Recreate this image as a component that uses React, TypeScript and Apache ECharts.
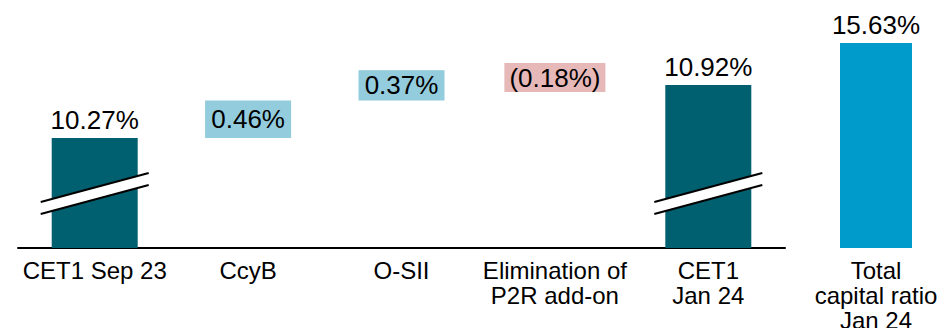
import React, { useEffect, useRef } from 'react';
import * as echarts from 'echarts';

const categories = ['CET1 Sep 23', 'CcyB', 'O-SII', 'Elimination of\nP2R add-on', 'CET1\nJan 24'];
const endpointValues: (number | null)[] = [10.27, null, null, null, 10.92];
const changeValues: (number | null)[] = [null, 0.46, 0.37, -0.18, null];
const totalCategories = ['Total\ncapital ratio\nJan 24'];
const totalValues = [15.63];
const breakIndices = [0, 4];

const FONT = '"Liberation Sans", Arial, Helvetica, sans-serif';
const C_END = '#00606F';
const C_POS = '#93CDDD';
const C_NEG = '#E6B9B8';
const C_TOTAL = '#009BCB';
const Y_MIN = 8.92;

export default function App() {
  const ref = useRef<HTMLDivElement>(null);
  useEffect(() => {
    document.body.style.margin = '0';
    const chart = echarts.init(ref.current!, null, { renderer: 'svg' });

    let running = 0;
    const base: any[] = [];
    const delta: any[] = [];
    const ends: any[] = [];
    categories.forEach((_, i) => {
      const e = endpointValues[i];
      const c = changeValues[i];
      if (e != null) {
        running = e;
        ends.push(e);
        base.push(0);
        delta.push({ value: 0, label: { show: false } });
      } else {
        ends.push({ value: 0, label: { show: false } });
        const ch = c as number;
        const lo = ch >= 0 ? running : running + ch;
        base.push(lo);
        const col = ch >= 0 ? C_POS : C_NEG;
        delta.push({
          value: Math.abs(ch),
          raw: ch,
          itemStyle: { color: col },
          label: { backgroundColor: col },
        });
        running += ch;
      }
    });

    const fmtPct = (v: number) => (v < 0 ? `(${Math.abs(v).toFixed(2)}%)` : `${v.toFixed(2)}%`);

    const catLabel = { interval: 0, color: '#000', fontSize: 24, lineHeight: 25, margin: 10, fontFamily: FONT };

    chart.setOption({
      animation: false,
      textStyle: { fontFamily: FONT },
      grid: [
        { left: 18, width: 767, top: 5, bottom: 80, outerBoundsMode: 'none', containLabel: false },
        { left: 805, width: 142, top: 12, bottom: 80, outerBoundsMode: 'none', containLabel: false },
      ],
      xAxis: [
        {
          type: 'category',
          gridIndex: 0,
          data: categories,
          axisLine: { lineStyle: { color: '#000', width: 2 } },
          axisTick: { show: false },
          axisLabel: catLabel,
        },
        {
          type: 'category',
          gridIndex: 1,
          data: totalCategories,
          axisLine: { show: false },
          axisTick: { show: false },
          axisLabel: catLabel,
        },
      ],
      yAxis: [
        { type: 'value', gridIndex: 0, min: Y_MIN, max: 11.9, show: false, splitLine: { show: false } },
        { type: 'value', gridIndex: 1, min: 0, max: 18, show: false, splitLine: { show: false } },
      ],
      series: [
        {
          type: 'bar',
          name: 'endpoints',
          stack: 'w',
          barWidth: 86,
          data: ends,
          itemStyle: { color: C_END },
          label: {
            show: true,
            position: 'top',
            distance: 5,
            color: '#000',
            fontSize: 26,
            fontFamily: FONT,
            formatter: (p: any) => fmtPct(p.value),
          },
        },
        {
          type: 'bar',
          name: 'base',
          stack: 'w',
          barWidth: 86,
          data: base,
          itemStyle: { color: 'transparent' },
          silent: true,
        },
        {
          type: 'bar',
          name: 'changes',
          stack: 'w',
          barWidth: 86,
          data: delta,
          label: {
            show: true,
            position: 'inside',
            color: '#000',
            fontSize: 26,
            fontFamily: FONT,
            lineHeight: 25,
            padding: [2, 5],
            formatter: (p: any) => fmtPct(p.data.raw),
          },
        },
        {
          type: 'custom',
          name: 'breaks',
          xAxisIndex: 0,
          yAxisIndex: 0,
          clip: false,
          z: 10,
          data: breakIndices.map((i) => [i, Y_MIN]),
          renderItem: (params: any, api: any) => {
            const p = api.coord([api.value(0), api.value(1)]);
            const cx = p[0];
            const by = p[1];
            const x1 = cx - 54;
            const x2 = cx + 54;
            const uL = by - 46;
            const uR = by - 75;
            const lL = by - 34;
            const lR = by - 63;
            return {
              type: 'group',
              children: [
                {
                  type: 'polygon',
                  shape: { points: [[x1, uL], [x2, uR], [x2, lR], [x1, lL]] },
                  style: { fill: '#fff' },
                },
                { type: 'line', shape: { x1, y1: uL, x2, y2: uR }, style: { stroke: '#000', lineWidth: 2 } },
                { type: 'line', shape: { x1, y1: lL, x2, y2: lR }, style: { stroke: '#000', lineWidth: 2 } },
              ],
            };
          },
        },
        {
          type: 'bar',
          name: 'total',
          xAxisIndex: 1,
          yAxisIndex: 1,
          barWidth: 72,
          data: totalValues,
          itemStyle: { color: C_TOTAL },
          label: {
            show: true,
            position: 'top',
            distance: 5,
            color: '#000',
            fontSize: 26,
            fontFamily: FONT,
            formatter: (p: any) => fmtPct(p.value),
          },
        },
      ],
    });
    return () => chart.dispose();
  }, []);
  return <div ref={ref} style={{ width: 939, height: 328 }} />;
}
